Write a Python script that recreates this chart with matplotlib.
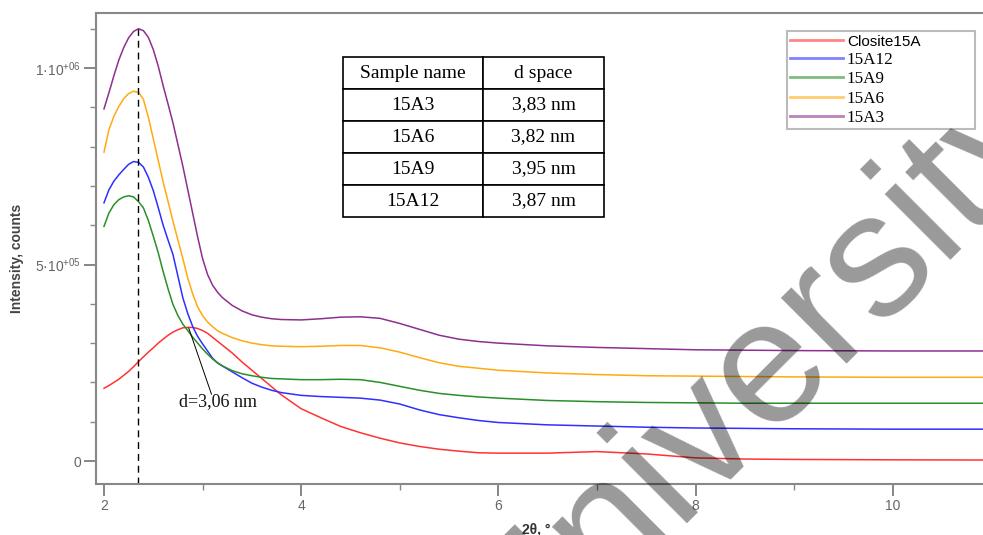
import numpy as np
import matplotlib.pyplot as plt
from matplotlib.ticker import FixedLocator

plt.rcParams['font.family'] = 'Liberation Sans'
plt.rcParams['mathtext.fontset'] = 'custom'
plt.rcParams['mathtext.rm'] = 'Liberation Sans'
plt.rcParams['mathtext.it'] = 'Liberation Sans'
plt.rcParams['mathtext.bf'] = 'Liberation Sans:bold'

# ---------------- data ----------------
two_theta = [2.0, 2.05, 2.1, 2.15, 2.2, 2.25, 2.3, 2.35, 2.4, 2.45, 2.5, 2.55, 2.6, 2.65,
             2.7, 2.75, 2.8, 2.85, 2.9, 2.95, 3.0, 3.05, 3.1, 3.15, 3.2, 3.3, 3.4, 3.5,
             3.6, 3.7, 3.8, 4.0, 4.2, 4.4, 4.6, 4.8, 5.0, 5.2, 5.4, 5.6, 5.8, 6.0,
             6.5, 7.0, 7.5, 8.0, 8.5, 9.0, 10.0, 11.0]

closite15a = [1.85e5, 1.92e5, 2.00e5, 2.08e5, 2.18e5, 2.28e5, 2.40e5, 2.53e5, 2.65e5, 2.77e5,
              2.88e5, 3.00e5, 3.10e5, 3.20e5, 3.28e5, 3.34e5, 3.39e5, 3.40e5, 3.40e5, 3.37e5,
              3.32e5, 3.25e5, 3.15e5, 3.05e5, 2.95e5, 2.75e5, 2.52e5, 2.31e5, 2.10e5, 1.89e5,
              1.68e5, 1.33e5, 1.10e5, 8.8e4, 7.2e4, 5.8e4, 4.6e4, 3.7e4, 3.0e4, 2.5e4,
              2.1e4, 2.0e4, 2.0e4, 2.4e4, 1.8e4, 8.0e3, 5.0e3, 4.0e3, 3.0e3, 2.5e3]

s15a12 = [6.57e5, 6.90e5, 7.12e5, 7.28e5, 7.42e5, 7.55e5, 7.62e5, 7.60e5, 7.48e5, 7.22e5,
          6.88e5, 6.45e5, 6.00e5, 5.62e5, 5.25e5, 4.70e5, 4.15e5, 3.75e5, 3.42e5, 3.17e5,
          2.98e5, 2.80e5, 2.62e5, 2.50e5, 2.42e5, 2.27e5, 2.12e5, 1.98e5, 1.88e5, 1.80e5,
          1.74e5, 1.67e5, 1.64e5, 1.62e5, 1.60e5, 1.55e5, 1.45e5, 1.30e5, 1.18e5, 1.10e5,
          1.03e5, 9.8e4, 9.2e4, 8.9e4, 8.6e4, 8.4e4, 8.3e4, 8.2e4, 8.1e4, 8.1e4]

s15a9 = [5.97e5, 6.31e5, 6.52e5, 6.65e5, 6.72e5, 6.75e5, 6.72e5, 6.60e5, 6.44e5, 6.12e5,
         5.72e5, 5.30e5, 4.82e5, 4.38e5, 3.98e5, 3.70e5, 3.48e5, 3.32e5, 3.15e5, 3.00e5,
         2.85e5, 2.72e5, 2.60e5, 2.50e5, 2.42e5, 2.30e5, 2.22e5, 2.17e5, 2.13e5, 2.10e5,
         2.09e5, 2.07e5, 2.07e5, 2.08e5, 2.07e5, 2.00e5, 1.90e5, 1.80e5, 1.72e5, 1.67e5,
         1.63e5, 1.60e5, 1.54e5, 1.51e5, 1.49e5, 1.48e5, 1.47e5, 1.47e5, 1.47e5, 1.47e5]

s15a6 = [7.86e5, 8.43e5, 8.77e5, 9.02e5, 9.22e5, 9.35e5, 9.41e5, 9.38e5, 9.20e5, 8.75e5,
         8.20e5, 7.65e5, 7.10e5, 6.60e5, 6.10e5, 5.62e5, 5.15e5, 4.65e5, 4.25e5, 3.92e5,
         3.70e5, 3.54e5, 3.42e5, 3.32e5, 3.25e5, 3.14e5, 3.06e5, 3.00e5, 2.96e5, 2.93e5,
         2.92e5, 2.91e5, 2.92e5, 2.94e5, 2.94e5, 2.88e5, 2.77e5, 2.63e5, 2.50e5, 2.41e5,
         2.36e5, 2.31e5, 2.24e5, 2.20e5, 2.17e5, 2.16e5, 2.15e5, 2.14e5, 2.13e5, 2.13e5]

s15a3 = [8.96e5, 9.37e5, 9.80e5, 1.020e6, 1.052e6, 1.077e6, 1.093e6, 1.100e6, 1.095e6, 1.078e6,
         1.047e6, 1.005e6, 9.55e5, 9.08e5, 8.60e5, 8.05e5, 7.50e5, 6.90e5, 6.30e5, 5.70e5,
         5.15e5, 4.75e5, 4.48e5, 4.30e5, 4.16e5, 3.96e5, 3.82e5, 3.72e5, 3.66e5, 3.62e5,
         3.60e5, 3.59e5, 3.62e5, 3.66e5, 3.67e5, 3.63e5, 3.50e5, 3.35e5, 3.20e5, 3.10e5,
         3.04e5, 3.00e5, 2.93e5, 2.89e5, 2.86e5, 2.83e5, 2.82e5, 2.81e5, 2.80e5, 2.80e5]

series_labels = ['Closite15A', '15A12', '15A9', '15A6', '15A3']
series_colors = ['#ff3333', '#2f2fff', '#2a8f2a', '#ffaa10', '#8e2f90']

peak_pos = 2.35
peak_label = 'd=3,06 nm'

table_header = ['Sample name', 'd space']
table_rows = [['15A3', '3,83 nm'],
              ['15A6', '3,82 nm'],
              ['15A9', '3,95 nm'],
              ['15A12', '3,87 nm']]

# ---------------- figure ----------------
fig = plt.figure(figsize=(9.83, 5.35), dpi=100)
ax = fig.add_axes([96/983, 1-484/535, (991.4-96)/983, (484-13)/535])

for ys, lab, col in zip([closite15a, s15a12, s15a9, s15a6, s15a3], series_labels, series_colors):
    ax.plot(two_theta, ys, color=col, lw=1.1, label=lab)

ax.set_xlim(1.919, 11.0)
ax.set_ylim(-5.85e4, 1.14e6)

ax.vlines(peak_pos, -5.85e4, 1.10e6, colors='black', lw=1.0, linestyles=(0, (5, 3.5)))

# annotation for Closite peak
ax.plot([2.86, 3.09], [3.38e5, 1.70e5], color='black', lw=0.7)
ax.text(3.16, 1.51e5, peak_label, ha='center', va='center', fontsize=13,
        family='Liberation Serif', color='#111111')

# ticks
ax.xaxis.set_major_locator(FixedLocator([2, 4, 6, 8, 10]))
ax.xaxis.set_minor_locator(FixedLocator([3, 5, 7, 9, 11]))
ax.yaxis.set_major_locator(FixedLocator([0, 5e5, 1e6]))
ax.yaxis.set_minor_locator(FixedLocator(np.arange(1e5, 1.15e6, 1e5)))
ax.set_yticklabels(['0', '5·10$^{+05}$', '1·10$^{+06}$'])
ax.set_xticklabels(['2', '4', '6', '8', '10'])
ax.tick_params(which='major', length=8.5, width=1.1, color='#666666',
               labelcolor='#666666', labelsize=10, pad=2)
ax.tick_params(which='minor', length=4.5, width=1.0, color='#888888')

for s in ['top', 'left', 'bottom']:
    ax.spines[s].set_color('#888888')
    ax.spines[s].set_linewidth(1.5)
ax.spines['right'].set_visible(False)

fig.text(17/983, 1-258/535, 'Intensity, counts', rotation=90, ha='center', va='center',
         fontsize=10, fontweight='bold', color='#444444')
fig.text(536/983, 1-522/535, '2θ, °', ha='center', va='top',
         fontsize=10, fontweight='bold', color='#333333')

# legend
leg = ax.legend(loc='upper left', bbox_to_anchor=(787/983, 1-128/535, 188/983, 97/535),
                bbox_transform=fig.transFigure, mode='expand', fancybox=False,
                framealpha=1, edgecolor='#bbbbbb', prop={'family': 'Liberation Serif', 'size': 12.3},
                handlelength=3.15, handletextpad=0.2, labelspacing=0.2, borderpad=0.15,
                borderaxespad=0)
leg.get_frame().set_linewidth(1.5)
for ln in leg.get_lines():
    ln.set_linewidth(2.0)
    ln.set_alpha(0.6)
leg.get_texts()[0].set_family('Liberation Sans')
leg.get_texts()[0].set_fontsize(11)

# table
tax = fig.add_axes([343/983, 1-217/535, 261/983, 160/535])
tax.axis('off')
tbl = tax.table(cellText=table_rows, colLabels=table_header, cellLoc='center',
                colWidths=[140/261, 121/261], bbox=[0, 0, 1, 1])
tbl.auto_set_font_size(False)
for (r, c), cell in tbl.get_celld().items():
    cell.set_linewidth(1.2)
    cell.set_edgecolor('black')
    cell.get_text().set_fontfamily('Liberation Serif')
    cell.get_text().set_fontsize(14)

# watermark
fig.text(790/983, 1-407/535, 'University', rotation=45, rotation_mode='anchor',
         ha='center', va='baseline', fontsize=127, color='black', alpha=0.4,
         family='Liberation Sans', zorder=100)

fig.savefig('out.png', dpi=100)
